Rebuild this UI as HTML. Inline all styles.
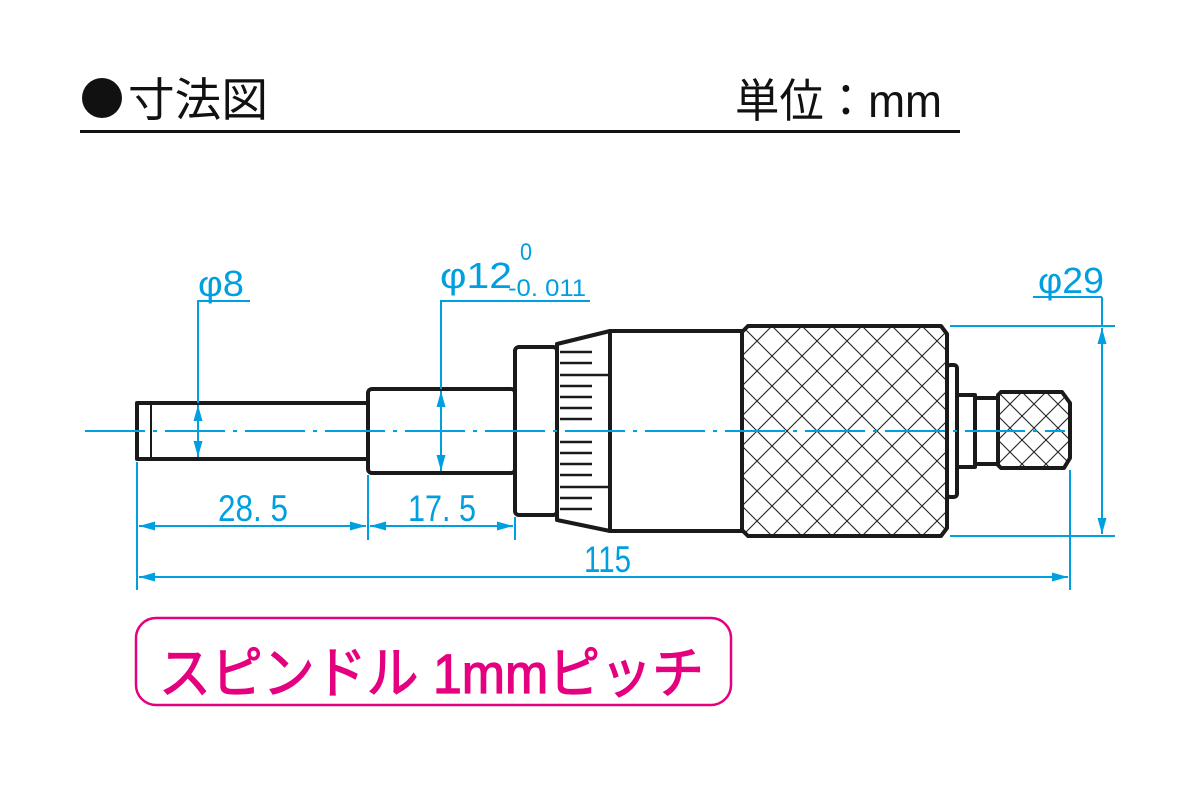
<!DOCTYPE html>
<html><head><meta charset="utf-8"><style>
html,body{margin:0;padding:0;background:#fff;width:1200px;height:800px;overflow:hidden}
svg{display:block}
</style></head><body>
<svg width="1200" height="800" viewBox="0 0 1200 800" xmlns="http://www.w3.org/2000/svg">
<defs>
<pattern id="kn" patternUnits="userSpaceOnUse" width="30" height="30" x="742" y="326">
<path d="M0,0 L30,30 M30,0 L0,30 M-5,25 L5,35 M25,-5 L35,5 M-5,5 L5,-5 M25,35 L35,25" stroke="#222" stroke-width="1.1" fill="none"/>
</pattern>
<pattern id="kn2" patternUnits="userSpaceOnUse" width="24" height="24" x="998" y="392">
<path d="M0,0 L24,24 M24,0 L0,24 M-5,19 L5,29 M19,-5 L29,5 M-5,5 L5,-5 M19,29 L29,19" stroke="#222" stroke-width="1.1" fill="none"/>
</pattern>
<marker id="ar" viewBox="0 0 16 9" refX="16" refY="4.5" markerWidth="16" markerHeight="9" markerUnits="userSpaceOnUse" preserveAspectRatio="none" orient="auto-start-reverse">
<path d="M0,0 L16,4.5 L0,9 z" fill="#00a0e0"/>
</marker>
</defs>

<circle cx="102" cy="98" r="20" fill="#111"/>
<text x="128" y="116" font-family="'Liberation Sans','Noto Sans CJK JP',sans-serif" font-size="46" fill="#111" textLength="140" lengthAdjust="spacingAndGlyphs">寸法図</text>
<text x="735" y="117" font-family="'Liberation Sans','Noto Sans CJK JP',sans-serif" font-size="46" fill="#111" textLength="207" lengthAdjust="spacingAndGlyphs">単位：mm</text>
<rect x="80" y="130" width="880" height="3" fill="#111"/>

<g stroke="#1a1a1a" stroke-width="4" fill="#fff" stroke-linejoin="round">
<rect x="137" y="403" width="231" height="56"/>
<rect x="368" y="389" width="147" height="84" rx="4"/>
<rect x="515" y="347" width="42" height="168" rx="4"/>
<path d="M557,344 L610,331 L610,531 L557,520 Z"/>
<rect x="610" y="331" width="132" height="200"/>
<path d="M748,326 L941,326 L947,334 L947,528 L941,536 L748,536 L742,530 L742,332 Z" fill="url(#kn)"/>
<rect x="947" y="365" width="10" height="132" rx="3"/>
<rect x="957" y="395" width="18" height="72"/>
<rect x="975" y="398" width="23" height="66"/>
<path d="M1001,392 L1062,392 L1070,403 L1070,458 L1064,468 L1001,468 L998,465 L998,395 Z" fill="url(#kn2)"/>
</g>
<line x1="151" y1="403" x2="151" y2="459" stroke="#1a1a1a" stroke-width="2"/>
<g stroke="#1a1a1a" stroke-width="2.5">
<line x1="560" y1="352" x2="592" y2="352"/><line x1="560" y1="363" x2="592" y2="363"/>
<line x1="560" y1="375" x2="610" y2="375"/>
<line x1="560" y1="386" x2="592" y2="386"/><line x1="560" y1="397" x2="592" y2="397"/>
<line x1="560" y1="408" x2="592" y2="408"/><line x1="560" y1="419" x2="592" y2="419"/>
<line x1="560" y1="442" x2="592" y2="442"/><line x1="560" y1="453" x2="592" y2="453"/>
<line x1="560" y1="464" x2="592" y2="464"/><line x1="560" y1="475" x2="592" y2="475"/>
<line x1="560" y1="487" x2="610" y2="487"/>
<line x1="560" y1="498" x2="592" y2="498"/><line x1="560" y1="509" x2="592" y2="509"/>
</g>

<line x1="85" y1="431" x2="1065" y2="431" stroke="#00a0e0" stroke-width="2" stroke-dasharray="60,8,4,8"/>

<g stroke="#00a0e0" stroke-width="2" fill="none">
<line x1="137" y1="462" x2="137" y2="590"/>
<line x1="368" y1="475" x2="368" y2="540"/>
<line x1="515" y1="517" x2="515" y2="540"/>
<line x1="1070" y1="470" x2="1070" y2="590"/>
<line x1="139" y1="526" x2="366" y2="526" marker-start="url(#ar)" marker-end="url(#ar)"/>
<line x1="370" y1="526" x2="513" y2="526" marker-start="url(#ar)" marker-end="url(#ar)"/>
<line x1="139" y1="577" x2="1068" y2="577" marker-start="url(#ar)" marker-end="url(#ar)"/>
<polyline points="250,301 198,301 198,403"/>
<line x1="198" y1="405" x2="198" y2="457" marker-start="url(#ar)" marker-end="url(#ar)"/>
<polyline points="590,301 441,301 441,389"/>
<line x1="441" y1="391" x2="441" y2="471" marker-start="url(#ar)" marker-end="url(#ar)"/>
<line x1="950" y1="326" x2="1115" y2="326"/>
<line x1="950" y1="536" x2="1115" y2="536"/>
<line x1="1033" y1="297" x2="1102" y2="297"/>
<line x1="1102" y1="297" x2="1102" y2="326"/>
<line x1="1102" y1="328" x2="1102" y2="534" marker-start="url(#ar)" marker-end="url(#ar)"/>
</g>
<g fill="#00a0e0" font-family="'Liberation Sans','Noto Sans CJK JP',sans-serif">
<text x="198" y="296" font-size="36" textLength="46" lengthAdjust="spacingAndGlyphs">φ8</text>
<text x="440" y="288" font-size="36" textLength="72" lengthAdjust="spacingAndGlyphs">φ12</text>
<text x="520" y="260" font-size="24" textLength="12" lengthAdjust="spacingAndGlyphs">0</text>
<text x="508" y="296" font-size="24" textLength="78" lengthAdjust="spacingAndGlyphs">-0. 011</text>
<text x="1038" y="293" font-size="36" textLength="66" lengthAdjust="spacingAndGlyphs">φ29</text>
<text x="218" y="521" font-size="37" textLength="70" lengthAdjust="spacingAndGlyphs">28. 5</text>
<text x="408" y="521" font-size="37" textLength="68" lengthAdjust="spacingAndGlyphs">17. 5</text>
<text x="584" y="572" font-size="37" textLength="47" lengthAdjust="spacingAndGlyphs">115</text>
</g>

<rect x="136" y="618" width="595" height="87" rx="20" fill="#fff" stroke="#e4007f" stroke-width="2.5"/>
<text x="159" y="693" font-family="'Liberation Sans','Noto Sans CJK JP',sans-serif" font-size="56" fill="#e4007f" stroke="#e4007f" stroke-width="1.2" textLength="545" lengthAdjust="spacingAndGlyphs">スピンドル 1mmピッチ</text>
</svg>
</body></html>
